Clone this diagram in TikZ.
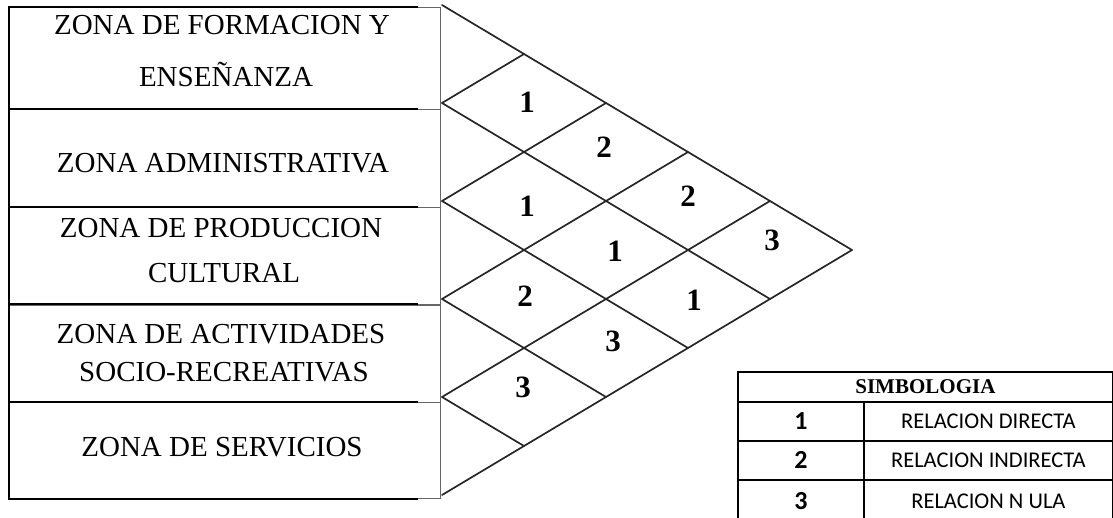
\documentclass[tikz,border=0pt]{standalone}
\usepackage{fontspec}
\setmainfont{Liberation Serif}
\newfontfamily\calfam{Carlito}
\begin{document}
\begin{tikzpicture}[x=1pt,y=-1pt,
  zone/.style={draw=gray!80!black, line width=0.8pt, minimum width=431pt, inner sep=0pt, anchor=north west},
  blk/.style={line width=1.8pt, black},
  ztext/.style={font=\fontsize{29}{29}\selectfont, anchor=base, inner sep=0pt},
  dig/.style={font=\fontsize{31}{31}\selectfont\bfseries, inner sep=0pt},
  gridline/.style={line width=1.7pt, black!85, line cap=round},
  cell/.style={draw=black, line width=1.8pt, inner sep=0pt, anchor=north west},
  keycell/.style={cell, minimum width=126pt, font=\calfam\bfseries\fontsize{26}{26}\selectfont},
  desccell/.style={cell, minimum width=249pt, font=\calfam\fontsize{22.5}{22.5}\selectfont},
]
\useasboundingbox (0,0) rectangle (1113,518);

% zone boxes
\node[zone, minimum height=102pt] (z1) at (9,7) {};
\node[zone, minimum height=98pt]  (z2) at (9,109) {};
\node[zone, minimum height=98pt]  (z3) at (9,207) {};
\node[zone, minimum height=98pt]  (z4) at (9,304) {};
\node[zone, minimum height=96pt]  (z5) at (9,402) {};
\draw[blk] ([xshift=-23pt]z1.north east) -- (z1.north west) -- (z5.south west) -- ([xshift=-23pt]z5.south east);
\draw[blk] (z2.north west) -- ([xshift=-23pt]z2.north east);
\draw[blk] (z3.north west) -- ([xshift=-23pt]z3.north east);
\draw[blk] (z4.north west) -- ([xshift=-23pt]z4.north east);
\draw[blk] (z5.north west) -- ([xshift=-23pt]z5.north east);

% zone texts
\node[ztext] (t1a) at (222,35)  {ZONA DE FORMACION Y};
\node[ztext] (t1b) at (226,87)  {ENSEÑANZA};
\node[ztext] (t2)  at (223,173) {ZONA ADMINISTRATIVA};
\node[ztext] (t3a) at (221,238) {ZONA DE PRODUCCION};
\node[ztext] (t3b) at (224,283) {CULTURAL};
\node[ztext] (t4a) at (221,343) {ZONA DE ACTIVIDADES};
\node[ztext] (t4b) at (224,381) {SOCIO-RECREATIVAS};
\node[ztext] (t5)  at (222,456) {ZONA DE SERVICIOS};

% relation grid
\foreach \k in {0,...,5} {
  \coordinate (L\k) at (442,{5+98*\k});
  \coordinate (T\k) at ({442+82*\k},{5+49*\k});
  \coordinate (B\k) at ({442+82*\k},{495-49*\k});
}
\foreach \k in {0,...,4} {
  \pgfmathtruncatemacro\e{5-\k}
  \draw[gridline] (L\k) -- (B\e);
}
\foreach \k in {1,...,5} {
  \draw[gridline] (L\k) -- (T\k);
}

% relation values
\node[dig] (r01) at (527,102) {1};
\node[dig] (r02) at (604,147) {2};
\node[dig] (r03) at (688,196) {2};
\node[dig] (r04) at (772,240) {3};
\node[dig] (r12) at (527,206) {1};
\node[dig] (r13) at (615,251) {1};
\node[dig] (r14) at (694,300) {1};
\node[dig] (r23) at (525,296) {2};
\node[dig] (r24) at (613,341) {3};
\node[dig] (r34) at (523,387) {3};

% legend
\node[cell, minimum width=375pt, minimum height=30pt, font=\bfseries\fontsize{21}{21}\selectfont] (hd) at (737,371) {SIMBOLOGIA};
\node[keycell, minimum height=39pt] (k1) at (737,401) {1};
\node[keycell, minimum height=39pt] (k2) at (737,440) {2};
\node[keycell, minimum height=42pt] (k3) at (737,479) {3};
\node[desccell, minimum height=39pt] (d1) at (863,401) {RELACION DIRECTA};
\node[desccell, minimum height=39pt] (d2) at (863,440) {RELACION INDIRECTA};
\node[desccell, minimum height=42pt] (d3) at (863,479) {RELACION N ULA};
\end{tikzpicture}
\end{document}
